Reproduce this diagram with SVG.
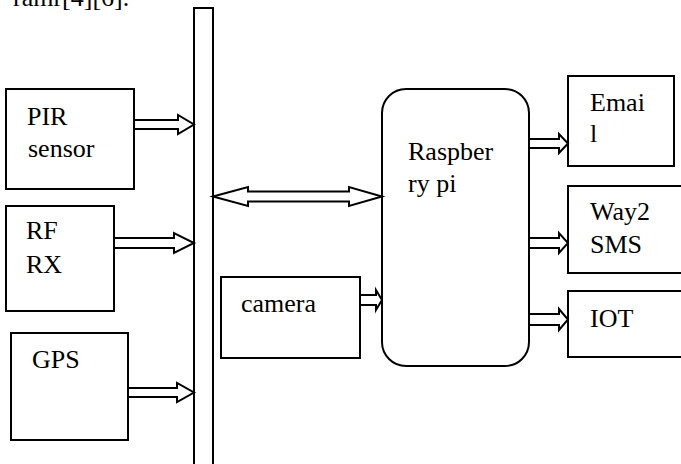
<svg xmlns="http://www.w3.org/2000/svg" width="681" height="464" viewBox="0 0 681 464">
<style>
.box{fill:#fff;stroke:#000;stroke-width:2}
.arr{fill:#fff;stroke:#000;stroke-width:2;stroke-linejoin:miter}
.t{font-family:'Liberation Serif','Times New Roman','DejaVu Serif',serif;font-size:26px;fill:#000}
</style>
<rect width="681" height="464" fill="#fff"/>
<text class="t" x="13" y="6" font-family="Liberation Serif, serif">ramr[4][6].</text>
<g id="bus"><rect class="box" x="194" y="8" width="19" height="470"/></g>
<g id="pir"><rect class="box" x="6" y="89" width="128" height="100"/><text class="t" x="27" y="125" font-family="Liberation Serif, serif">PIR</text><text class="t" x="28" y="157" font-family="Liberation Serif, serif">sensor</text></g>
<g id="rfrx"><rect class="box" x="6" y="206" width="108" height="105"/><text class="t" x="26" y="239" font-family="Liberation Serif, serif">RF</text><text class="t" x="26" y="273" font-family="Liberation Serif, serif">RX</text></g>
<g id="gps"><rect class="box" x="11" y="333" width="117" height="107"/><text class="t" x="32" y="368" font-family="Liberation Serif, serif">GPS</text></g>
<g id="camera"><rect class="box" x="221" y="277" width="139" height="81"/><text class="t" x="241" y="312" font-family="Liberation Serif, serif">camera</text></g>
<g id="raspberry"><rect class="box" x="382" y="89" width="147" height="277" rx="24" ry="24"/><text class="t" x="408" y="160" font-family="Liberation Serif, serif">Raspber</text><text class="t" x="408" y="192" font-family="Liberation Serif, serif">ry pi</text></g>
<g id="email"><rect class="box" x="568" y="76" width="106" height="90"/><text class="t" x="590" y="111" font-family="Liberation Serif, serif">Emai</text><text class="t" x="590" y="142" font-family="Liberation Serif, serif">l</text></g>
<g id="way2sms"><rect class="box" x="568" y="186" width="120" height="87"/><text class="t" x="590" y="220" font-family="Liberation Serif, serif">Way2</text><text class="t" x="590" y="253" font-family="Liberation Serif, serif">SMS</text></g>
<g id="iot"><rect class="box" x="568" y="291" width="120" height="66"/><text class="t" x="590" y="327" font-family="Liberation Serif, serif">IOT</text></g>
<g id="connectors">
<polygon class="arr" points="134,120 178,120 178,115 194,124.5 178,134 178,129 134,129"/>
<polygon class="arr" points="114,238 174,238 174,233 194,243 174,253 174,248 114,248"/>
<polygon class="arr" points="128,388 177,388 177,383 194,392.5 177,402 177,397 128,397"/>
<polygon class="arr" points="213,196.5 248,187 248,191.5 349,191.5 349,187 382,196.5 349,206 349,201.5 248,201.5 248,206"/>
<polygon class="arr" points="360,295 376,295 376,290 382,300 376,310 376,305 360,305"/>
<polygon class="arr" points="529,139 559,139 559,134 568,143.5 559,153 559,148 529,148"/>
<polygon class="arr" points="529,238 559,238 559,233 568,243 559,253 559,248 529,248"/>
<polygon class="arr" points="529,314 559,314 559,309 568,319.5 559,330 559,325 529,325"/>
</g>
</svg>
